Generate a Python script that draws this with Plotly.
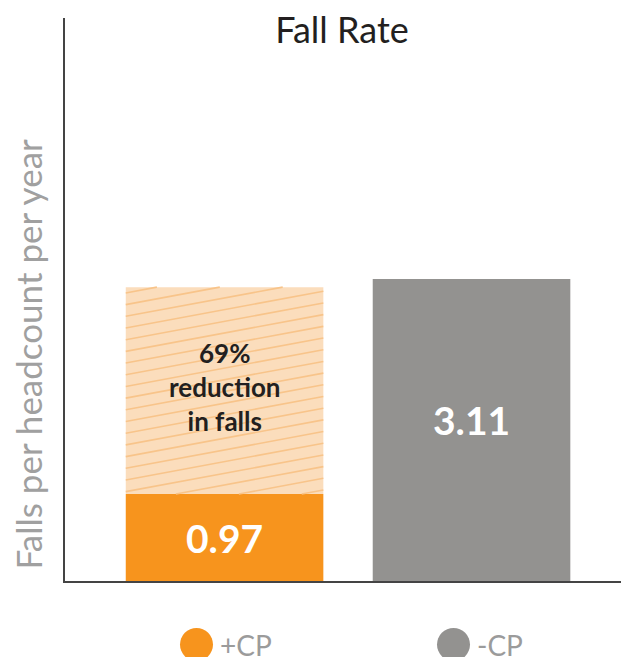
import plotly.graph_objects as go

# ---- data ----
categories = ["+CP", "-CP"]
fall_rate = [0.97, 3.11]          # falls per headcount per year
hatch_top = [3.03]                # drawn top of the hatched "reduction" band over +CP
legend_labels = ["+CP", "-CP"]

colors = ["#F7941D", "#939290"]
hatch_bg = "#FBDDBC"
hatch_fg = "#F8C48A"

reduction_pct = round((1 - fall_rate[0] / fall_rate[1]) * 100)

Y_MIN, Y_MAX = 0.104, 5.71
BAR_W = 0.8
FONT = "Lato"

xpos = list(range(len(categories)))

fig = go.Figure()

# solid bars
fig.add_trace(go.Bar(
    x=xpos, y=fall_rate,
    marker=dict(color=colors, line=dict(width=0)),
    width=BAR_W, showlegend=False, hoverinfo="skip",
))
# hatched reduction band on top of +CP
fig.add_trace(go.Bar(
    x=[xpos[0]], y=[hatch_top[0] - fall_rate[0]], base=[fall_rate[0]],
    marker=dict(color=hatch_bg, line=dict(width=0)),
    width=BAR_W, showlegend=False, hoverinfo="skip",
))

# shallow diagonal hatch lines clipped to the band
xl, xr = xpos[0] - BAR_W / 2, xpos[0] + BAR_W / 2
y0, y1 = fall_rate[0], hatch_top[0]
slope = 0.457     # y units per x unit (~10 deg on screen)
step = 0.1164     # vertical spacing between hatch lines
hx, hy = [], []
c = y0 - slope * (xr - xl) + 0.04
while c < y1:
    xa = max(xl, xl + (y0 - c) / slope)
    xb = min(xr, xl + (y1 - c) / slope)
    if xb > xa:
        hx += [xa, xb, None]
        hy += [c + slope * (xa - xl), c + slope * (xb - xl), None]
    c += step
fig.add_trace(go.Scatter(
    x=hx, y=hy, mode="lines", line=dict(color=hatch_fg, width=1.6),
    showlegend=False, hoverinfo="skip",
))

# reduction text
fig.add_annotation(
    x=xpos[0], y=(y0 + y1) / 2, xref="x", yref="y", yshift=4,
    text=f"<b>{reduction_pct}%<br>reduction<br>in falls</b>", showarrow=False,
    font=dict(family=FONT, size=26, color="#231F20"),
)

# value labels inside bars
for xp, v in zip(xpos, fall_rate):
    fig.add_annotation(
        x=xp, y=0.55 * v, xref="x", yref="y",
        text=f"<b>{v:.2f}</b>", showarrow=False,
        font=dict(family=FONT, size=39, color="white"),
    )

# custom legend (large circles + labels)
legend_x = [0.2299, 0.6792]
legend_y = -0.1128
for lab, col, lx in zip(legend_labels, colors, legend_x):
    fig.add_shape(type="circle", xref="paper", yref="paper",
                  xsizemode="pixel", ysizemode="pixel",
                  xanchor=lx, yanchor=legend_y,
                  x0=-16.5, x1=16.5, y0=-16.5, y1=16.5,
                  fillcolor=col, line=dict(width=0))
    fig.add_annotation(x=lx, y=legend_y, xref="paper", yref="paper",
                       xanchor="left", yanchor="middle", xshift=21,
                       text=lab, showarrow=False,
                       font=dict(family=FONT, size=28, color="#9B9B9B"))

# y-axis title
fig.add_annotation(x=-0.0647, y=0.404, xref="paper", yref="paper",
                   text="Falls per headcount per year", textangle=-90,
                   showarrow=False, xanchor="center", yanchor="middle",
                   font=dict(family=FONT, size=35, color="#A0A0A0"))

fig.update_layout(
    width=629, height=657,
    margin=dict(l=57, r=0, t=10, b=84),
    barmode="overlay",
    paper_bgcolor="white", plot_bgcolor="white",
    title=dict(text="Fall Rate", x=0.531, xanchor="center", y=0.9665, yanchor="middle",
               font=dict(family=FONT, size=36, color="#231F20")),
    xaxis=dict(range=[-0.646, 1.670], showticklabels=False, ticks="",
               showline=True, linecolor="#444", linewidth=1.5,
               showgrid=False, zeroline=False, fixedrange=True),
    yaxis=dict(range=[Y_MIN, Y_MAX], showticklabels=False, ticks="",
               showline=True, linecolor="#444", linewidth=1.5,
               showgrid=False, zeroline=False),
    showlegend=False,
)

fig.write_html("out.html")
